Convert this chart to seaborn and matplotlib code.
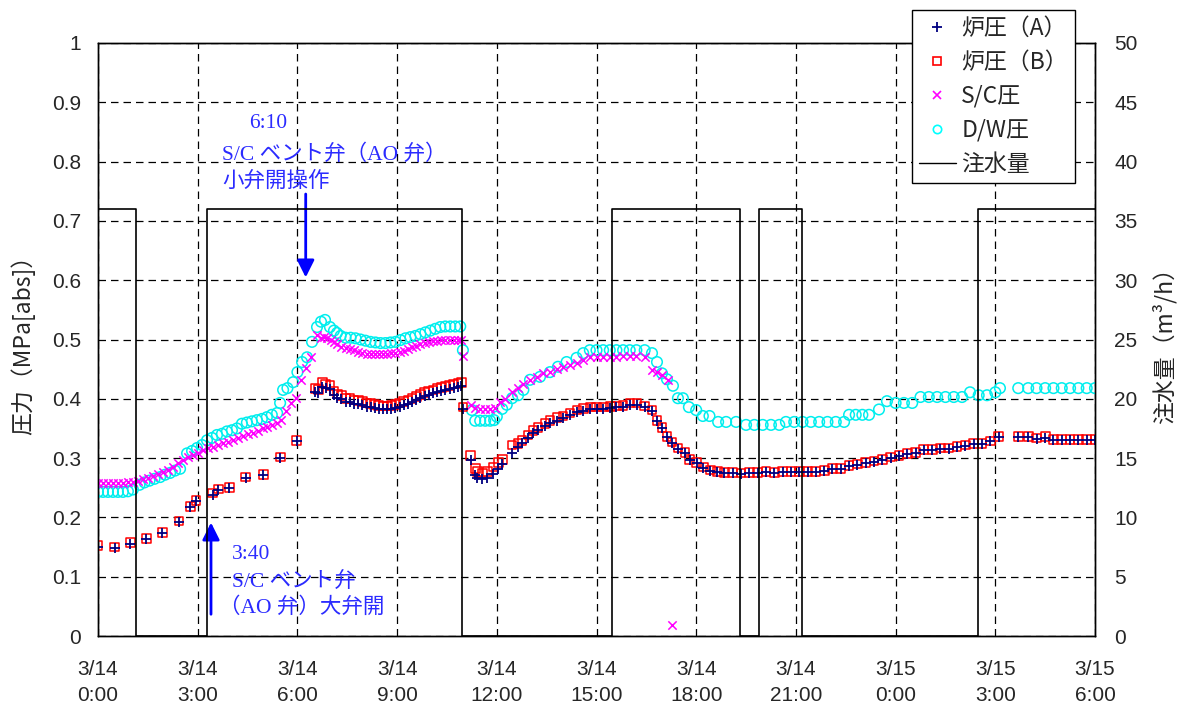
import matplotlib
matplotlib.use("Agg")
import matplotlib.pyplot as plt
from matplotlib import font_manager
from matplotlib.lines import Line2D
import seaborn as sns

# time axis in hours from 3/14 0:00
tick_hours = [0, 3, 6, 9, 12, 15, 18, 21, 24, 27, 30]
tick_labels = ["3/14\n0:00", "3/14\n3:00", "3/14\n6:00", "3/14\n9:00", "3/14\n12:00",
               "3/14\n15:00", "3/14\n18:00", "3/14\n21:00", "3/15\n0:00", "3/15\n3:00",
               "3/15\n6:00"]

# reactor pressure, channel A / B
t_rpv = [0.0, 0.5, 0.97, 1.45, 1.93, 2.44, 2.78, 2.95, 3.45, 3.62, 3.95, 4.45, 4.97, 5.48, 5.98,
         6.53, 6.63, 6.75, 6.85, 6.98, 7.1, 7.2, 7.32, 7.45, 7.58, 7.7, 7.83, 7.95,
         8.08, 8.2, 8.33, 8.45, 8.58, 8.7, 8.83, 8.95, 9.08, 9.2, 9.33, 9.45, 9.58, 9.7, 9.83, 9.95,
         10.08, 10.2, 10.33, 10.45, 10.58, 10.7, 10.83, 10.93, 10.98,
         11.22, 11.35, 11.41, 11.56, 11.71, 11.89, 12.04, 12.16, 12.46, 12.64,
         12.76, 12.94, 13.09, 13.24, 13.45, 13.6, 13.81, 13.99, 14.2, 14.41,
         14.6, 14.81, 15.0, 15.2, 15.41, 15.6, 15.8, 16.01, 16.22, 16.45,
         16.67, 16.82, 16.97, 17.12, 17.27, 17.45, 17.66, 17.81, 18.02, 18.21,
         18.42, 18.63, 18.85, 19.1, 19.35, 19.6, 19.85, 20.1, 20.35, 20.6,
         20.85, 21.1, 21.35, 21.6, 21.85, 22.1, 22.35, 22.6, 22.85, 23.1,
         23.35, 23.6, 23.85, 24.1, 24.35, 24.6, 24.85, 25.1, 25.35, 25.6,
         25.85, 26.1, 26.35, 26.6, 26.85, 27.1,
         27.69, 27.99, 28.24, 28.5, 28.75, 29.0, 29.25, 29.5, 29.75, 30.0]
p_b = [0.152, 0.150, 0.158, 0.164, 0.175, 0.194, 0.219, 0.229, 0.241, 0.248, 0.251, 0.268, 0.273, 0.302, 0.330,
       0.418, 0.416, 0.427, 0.425, 0.423, 0.413, 0.408, 0.405, 0.401, 0.400, 0.398, 0.397, 0.395,
       0.393, 0.392, 0.390, 0.389, 0.388, 0.388, 0.389, 0.391, 0.393, 0.395, 0.398, 0.401, 0.404, 0.407, 0.410, 0.413,
       0.415, 0.417, 0.419, 0.421, 0.423, 0.425, 0.426, 0.427, 0.386,
       0.305, 0.283, 0.277, 0.275, 0.277, 0.285, 0.292, 0.297, 0.322, 0.325,
       0.330, 0.339, 0.347, 0.352, 0.359, 0.364, 0.368, 0.371, 0.376, 0.381,
       0.384, 0.386, 0.386, 0.386, 0.387, 0.388, 0.389, 0.393, 0.393, 0.388,
       0.381, 0.363, 0.351, 0.337, 0.327, 0.317, 0.309, 0.297, 0.292, 0.285,
       0.280, 0.277, 0.276, 0.276, 0.275, 0.276, 0.276, 0.277, 0.276, 0.277,
       0.278, 0.277, 0.278, 0.278, 0.279, 0.282, 0.283, 0.287, 0.290, 0.292,
       0.295, 0.297, 0.302, 0.305, 0.308, 0.310, 0.314, 0.315, 0.317, 0.317,
       0.320, 0.322, 0.324, 0.325, 0.329, 0.336,
       0.336, 0.337, 0.334, 0.336, 0.332, 0.332, 0.332, 0.332, 0.332, 0.332]
p_a = [0.150, 0.148, 0.155, 0.163, 0.173, 0.192, 0.217, 0.227, 0.238, 0.246, 0.250, 0.266, 0.272, 0.301, 0.328,
       0.412, 0.410, 0.420, 0.418, 0.416, 0.407, 0.402, 0.399, 0.395, 0.394, 0.392, 0.391, 0.389,
       0.387, 0.386, 0.384, 0.383, 0.382, 0.382, 0.383, 0.385, 0.387, 0.389, 0.392, 0.395, 0.398, 0.401, 0.404, 0.407,
       0.409, 0.411, 0.413, 0.415, 0.417, 0.419, 0.420, 0.421, 0.383,
       0.297, 0.272, 0.266, 0.265, 0.267, 0.273, 0.282, 0.290, 0.309, 0.318,
       0.325, 0.334, 0.342, 0.347, 0.354, 0.359, 0.363, 0.367, 0.372, 0.377,
       0.380, 0.382, 0.383, 0.383, 0.384, 0.386, 0.387, 0.390, 0.390, 0.386,
       0.380, 0.362, 0.350, 0.336, 0.326, 0.316, 0.308, 0.296, 0.291, 0.284,
       0.279, 0.276, 0.275, 0.275, 0.274, 0.275, 0.275, 0.276, 0.275, 0.276,
       0.277, 0.276, 0.277, 0.277, 0.278, 0.281, 0.282, 0.286, 0.289, 0.291,
       0.294, 0.296, 0.301, 0.304, 0.307, 0.309, 0.313, 0.314, 0.316, 0.316,
       0.319, 0.321, 0.323, 0.324, 0.328, 0.335,
       0.335, 0.336, 0.333, 0.334, 0.331, 0.331, 0.331, 0.331, 0.331, 0.331]

# suppression chamber pressure
t_sc = [0.0, 0.15, 0.3, 0.45, 0.6, 0.75, 0.9, 1.05, 1.2, 1.35, 1.5, 1.65, 1.8, 1.95, 2.1, 2.25, 2.4,
        2.55, 2.7, 2.85, 3.0, 3.15, 3.3, 3.45, 3.6, 3.75, 3.9, 4.05, 4.2, 4.35, 4.5, 4.65, 4.8,
        4.95, 5.1, 5.25, 5.4, 5.5, 5.65, 5.8, 5.95, 6.1, 6.27, 6.42, 6.58, 6.7, 6.8, 6.9,
        7.0, 7.1, 7.2, 7.32, 7.45, 7.58, 7.7, 7.83, 7.95, 8.08, 8.2, 8.33, 8.45, 8.58, 8.7, 8.83,
        8.95, 9.08, 9.2, 9.33, 9.45, 9.58, 9.7, 9.83, 9.95, 10.08, 10.2, 10.33, 10.45, 10.58,
        10.7, 10.83, 10.93, 10.98,
        11.22, 11.35, 11.5, 11.65, 11.8, 11.95, 12.1, 12.25, 12.46, 12.64, 12.8, 13.0, 13.2,
        13.4, 13.6, 13.8, 14.0, 14.2, 14.4, 14.6, 14.8, 15.0, 15.2, 15.4, 15.6, 15.8, 16.0,
        16.2, 16.45, 16.67, 16.82, 16.97, 17.15, 17.27]
p_sc = [0.258, 0.258, 0.258, 0.258, 0.258, 0.258, 0.259, 0.260, 0.262, 0.265, 0.267, 0.270, 0.273, 0.277, 0.280, 0.285, 0.291,
        0.297, 0.302, 0.306, 0.309, 0.313, 0.317, 0.319, 0.322, 0.325, 0.327, 0.331, 0.334, 0.337, 0.341, 0.343, 0.346,
        0.350, 0.353, 0.356, 0.360, 0.364, 0.380, 0.393, 0.401, 0.432, 0.452, 0.470, 0.508, 0.503, 0.504, 0.503,
        0.500, 0.496, 0.492, 0.488, 0.486, 0.484, 0.482, 0.479, 0.477, 0.476, 0.475, 0.475, 0.475, 0.476, 0.476, 0.477,
        0.478, 0.479, 0.481, 0.484, 0.487, 0.489, 0.492, 0.494, 0.496, 0.497, 0.498, 0.499, 0.499, 0.500,
        0.500, 0.500, 0.500, 0.472,
        0.390, 0.385, 0.383, 0.383, 0.383, 0.384, 0.394, 0.400, 0.411, 0.418, 0.425, 0.432, 0.437,
        0.443, 0.446, 0.450, 0.454, 0.457, 0.460, 0.466, 0.470, 0.471, 0.471, 0.471, 0.471, 0.472, 0.472,
        0.472, 0.470, 0.449, 0.445, 0.440, 0.432, 0.019]

# drywell pressure
t_dw = [0.0, 0.15, 0.3, 0.45, 0.6, 0.75, 0.9, 1.05, 1.25, 1.4, 1.55, 1.7, 1.87, 2.02, 2.17, 2.32, 2.47,
        2.68, 2.83, 2.98, 3.13, 3.28, 3.43, 3.58, 3.73, 3.88, 4.03, 4.18, 4.33, 4.48, 4.63, 4.78,
        4.93, 5.08, 5.23, 5.39, 5.48, 5.57, 5.7, 5.87, 6.0, 6.14, 6.29, 6.44, 6.59, 6.71, 6.83, 6.98,
        7.1, 7.19, 7.3, 7.45, 7.6, 7.75, 7.9, 8.05, 8.2, 8.35, 8.5, 8.65, 8.8, 8.95, 9.1, 9.25,
        9.4, 9.55, 9.7, 9.85, 10.0, 10.15, 10.3, 10.45, 10.6, 10.75, 10.9, 10.98,
        11.25, 11.35, 11.5, 11.65, 11.8, 11.92, 12.0, 12.16, 12.3, 12.46, 12.64, 12.8, 13.0, 13.3,
        13.6, 13.84, 14.1, 14.4, 14.6, 14.8, 15.0, 15.2, 15.4, 15.6, 15.8, 16.0, 16.2, 16.45,
        16.67, 16.82, 16.97, 17.12, 17.3, 17.45, 17.6, 17.78, 18.0, 18.2, 18.4, 18.66, 18.9, 19.2,
        19.5, 19.75, 20.0, 20.25, 20.5, 20.7, 20.95, 21.2, 21.45, 21.7, 21.95, 22.2, 22.45, 22.6,
        22.8, 23.0, 23.2, 23.5, 23.74, 24.0, 24.25, 24.5, 24.75, 25.0, 25.25, 25.5, 25.75, 26.0,
        26.24, 26.5, 26.75, 27.0, 27.14,
        27.69, 27.99, 28.24, 28.5, 28.75, 29.0, 29.25, 29.5, 29.75, 30.0]
p_dw = [0.243, 0.243, 0.243, 0.243, 0.243, 0.243, 0.244, 0.247, 0.255, 0.259, 0.262, 0.265, 0.268, 0.272, 0.275, 0.279, 0.282,
        0.308, 0.312, 0.317, 0.322, 0.330, 0.334, 0.339, 0.341, 0.345, 0.347, 0.350, 0.358, 0.360, 0.362, 0.364,
        0.366, 0.369, 0.373, 0.376, 0.393, 0.415, 0.418, 0.428, 0.445, 0.462, 0.470, 0.496, 0.521, 0.530, 0.533, 0.521,
        0.515, 0.511, 0.506, 0.503, 0.503, 0.502, 0.500, 0.498, 0.496, 0.495, 0.494, 0.494, 0.495, 0.496, 0.499, 0.502,
        0.504, 0.506, 0.509, 0.512, 0.515, 0.518, 0.521, 0.522, 0.522, 0.522, 0.522, 0.482,
        0.381, 0.363, 0.363, 0.363, 0.363, 0.364, 0.370, 0.383, 0.390, 0.401, 0.406, 0.415, 0.432, 0.437,
        0.445, 0.454, 0.462, 0.469, 0.477, 0.482, 0.482, 0.482, 0.482, 0.482, 0.482, 0.482, 0.482, 0.482,
        0.477, 0.462, 0.443, 0.433, 0.422, 0.401, 0.401, 0.386, 0.381, 0.371, 0.371, 0.361, 0.361, 0.361,
        0.356, 0.356, 0.356, 0.356, 0.356, 0.361, 0.361, 0.361, 0.361, 0.361, 0.361, 0.361, 0.361, 0.373,
        0.373, 0.373, 0.373, 0.382, 0.396, 0.393, 0.393, 0.393, 0.403, 0.403, 0.403, 0.403, 0.403, 0.403,
        0.411, 0.406, 0.406, 0.411, 0.418,
        0.418, 0.418, 0.418, 0.418, 0.418, 0.418, 0.418, 0.418, 0.418, 0.418]

# water injection (m3/h), step changes
t_inj = [0.0, 1.14, 3.28, 10.95, 15.47, 19.32, 19.89, 21.19, 26.48, 30.0]
q_inj = [36, 0, 36, 0, 36, 0, 36, 0, 36, 36]

sns.set_style("white")
cjk = ["Noto Sans CJK JP", "DejaVu Sans"]
serif_jp = ["Liberation Serif", "Noto Sans CJK JP", "DejaVu Sans"]
plt.rcParams["font.family"] = ["Liberation Sans", "Noto Sans CJK JP", "DejaVu Sans"]

names = {f.name for f in font_manager.fontManager.ttflist}
narrow = "Liberation Sans Narrow" if "Liberation Sans Narrow" in names else "Liberation Sans"

fig = plt.figure(figsize=(11.86, 7.13), dpi=100)
ax = fig.add_axes([98 / 1186, 1 - 636 / 713, (1095 - 98) / 1186, (636 - 43) / 713])
ax2 = ax.twinx()

sns.scatterplot(x=t_dw, y=p_dw, marker="o", s=58, color="cyan", facecolor="none",
                edgecolor="#00eeee", linewidth=1.1, ax=ax, zorder=3)
sns.scatterplot(x=t_sc, y=p_sc, marker="x", s=36, color="magenta", linewidth=1.1, ax=ax, zorder=4)
sns.scatterplot(x=t_rpv, y=p_b, marker="s", s=40, color="red", facecolor="none",
                edgecolor="red", linewidth=1.1, ax=ax, zorder=5)
sns.scatterplot(x=t_rpv, y=p_a, marker="+", s=45, color="navy", linewidth=1.3, ax=ax, zorder=6)

sns.lineplot(x=t_inj, y=q_inj, drawstyle="steps-post", color="black", linewidth=1.2, ax=ax2)

ax.set_xlim(0, 30)
ax.set_ylim(0, 1)
ax2.set_ylim(0, 50)
ax.set_xticks(tick_hours)
ax.set_xticklabels(tick_labels, fontsize=15, family=narrow, linespacing=1.5)
ax.set_yticks([i / 10 for i in range(11)])
ax.set_yticklabels(["0", "0.1", "0.2", "0.3", "0.4", "0.5", "0.6", "0.7", "0.8", "0.9", "1"], fontsize=15)
ax2.set_yticks(range(0, 51, 5))
ax2.set_yticklabels([str(v) for v in range(0, 51, 5)], fontsize=15)
ax.tick_params(axis="y", length=0, pad=12)
ax.tick_params(axis="x", length=0, pad=17)
ax2.tick_params(axis="y", length=0, pad=14)

ax.grid(True, color="black", linestyle=(0, (6, 4)), linewidth=0.9)
ax.set_axisbelow(True)
for a in (ax, ax2):
    for sp in a.spines.values():
        sp.set_color("black")
        sp.set_linewidth(1.0)

ax.set_ylabel("圧力（MPa[abs]）", fontsize=16.5, family=cjk, labelpad=12)
ax2.set_ylabel("注水量（m³/h）", fontsize=16.5, family=cjk, labelpad=10)

blue = "#2b2bff"
ax.annotate("", xy=(6.25, 0.60), xytext=(6.25, 0.75),
            arrowprops=dict(arrowstyle="-|>", color="blue", lw=2, mutation_scale=26))
ax.annotate("", xy=(3.4, 0.196), xytext=(3.4, 0.032),
            arrowprops=dict(arrowstyle="-|>", color="blue", lw=2, mutation_scale=26))
ax.text(4.55, 0.865, "6:10", color=blue, fontsize=15.5, family=serif_jp, va="center")
ax.text(3.73, 0.811, "S/C ベント弁（AO 弁）", color=blue, fontsize=15.5, family=serif_jp, va="center")
ax.text(3.73, 0.766, "小弁開操作", color=blue, fontsize=15.5, family=serif_jp, va="center")
ax.text(4.03, 0.137, "3:40", color=blue, fontsize=15.5, family=serif_jp, va="center")
ax.text(4.03, 0.091, "S/C ベント弁", color=blue, fontsize=15.5, family=serif_jp, va="center")
ax.text(3.65, 0.047, "（AO 弁）大弁開", color=blue, fontsize=15.5, family=serif_jp, va="center")

handles = [
    Line2D([], [], marker="+", color="navy", ls="none", markersize=7, mew=1.3),
    Line2D([], [], marker="s", color="red", mfc="none", ls="none", markersize=6, mew=1.2),
    Line2D([], [], marker="x", color="magenta", ls="none", markersize=6, mew=1.2),
    Line2D([], [], marker="o", color="cyan", mfc="none", ls="none", markersize=6, mew=1.2),
    Line2D([], [], color="black", lw=1.0),
]
labels = ["炉圧（A）", "炉圧（B）", "S/C圧", "D/W圧", "注水量"]
leg = fig.legend(handles, labels, loc="upper left", bbox_to_anchor=(912 / 1186, 1 - 10 / 713),
                 prop={"family": cjk, "size": 16.5}, frameon=True, fancybox=False,
                 edgecolor="black", framealpha=1, borderpad=0.3, labelspacing=0.48,
                 handlelength=1.6, handletextpad=0.25, borderaxespad=0)
leg.get_frame().set_linewidth(1.0)

fig.savefig("out.png", dpi=100)
